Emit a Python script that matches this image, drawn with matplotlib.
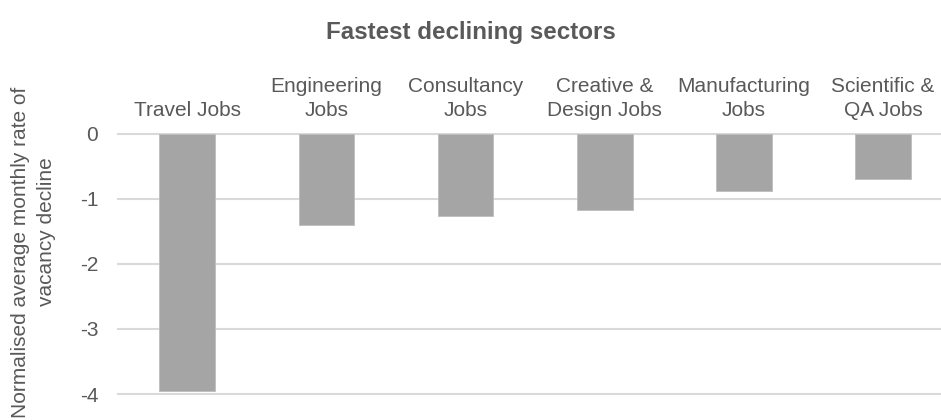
import matplotlib
matplotlib.use("Agg")
import matplotlib.pyplot as plt

plt.rcParams['font.family'] = ['Liberation Sans', 'DejaVu Sans']

categories = ["Travel Jobs", "Engineering\nJobs", "Consultancy\nJobs",
              "Creative &\nDesign Jobs", "Manufacturing\nJobs", "Scientific &\nQA Jobs"]
values = [-3.95, -1.40, -1.26, -1.17, -0.87, -0.70]
y_ticks = [0, -1, -2, -3, -4]
y_label_lines = ["Normalised average monthly rate of", "vacancy decline"]

text_color = "#595959"
bar_color = "#A5A5A5"
grid_color = "#D9D9D9"

W, H = 941, 420
fig = plt.figure(figsize=(W / 100, H / 100), dpi=100)
ax = fig.add_axes([0.1251, 0.0619, 0.8873, 0.6191])

x = list(range(len(categories)))
ax.bar(x, values, width=0.4, color=bar_color, edgecolor="#BDBDBD", linewidth=0.6, zorder=3)

ax.set_xlim(-0.5, len(categories) - 0.5)
ax.set_ylim(-4, 0)
ax.set_yticks(y_ticks)
ax.set_yticklabels([str(v) for v in y_ticks])

ax.xaxis.tick_top()
ax.set_xticks(x)
ax.set_xticklabels(categories, linespacing=1.35)
ax.tick_params(axis="x", length=0, pad=10, labelsize=15, labelcolor=text_color)
ax.tick_params(axis="y", length=0, pad=14, labelsize=15, labelcolor=text_color)

ax.yaxis.grid(True, color=grid_color, linewidth=1.5, zorder=0)
for gl in ax.yaxis.get_gridlines():
    gl.set_clip_on(False)
for s in ax.spines.values():
    s.set_visible(False)

# Two-line axis title, each line placed on its own
fig.text(21 / W, 1 - 252 / H, y_label_lines[0], rotation=90, ha="center", va="center",
         fontsize=15, color=text_color)
fig.text(47 / W, 1 - 232 / H, y_label_lines[1], rotation=90, ha="center", va="center",
         fontsize=15, color=text_color)

fig.text(0.5, 1 - 32 / H, "Fastest declining sectors", ha="center", va="center",
         fontsize=17.4, fontweight="bold", color=text_color)

fig.savefig("out.png", dpi=100)
